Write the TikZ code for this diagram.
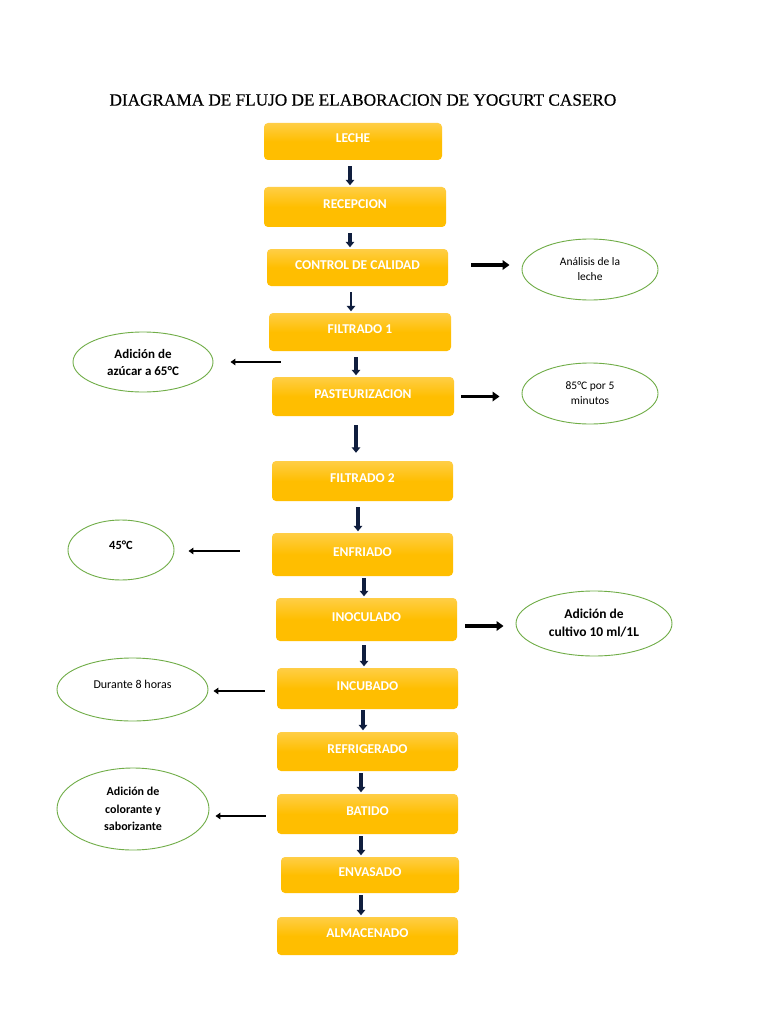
\documentclass[tikz,border=0pt]{standalone}
\usepackage{fontspec}
\setmainfont{Carlito}
\newfontfamily\titlefont[FakeBold=0.5]{Liberation Serif}
\usetikzlibrary{arrows.meta,shapes.geometric,calc}
\definecolor{boxtop}{RGB}{255,206,70}
\definecolor{boxbot}{RGB}{255,190,0}
\definecolor{navy}{RGB}{16,30,62}
\definecolor{ellgreen}{RGB}{112,173,71}
\tikzset{
  stepbox/.style={rectangle, rounded corners=4pt, top color=boxtop, bottom color=boxbot, middle color=boxbot,
    draw=none, minimum height=38pt, text=white, font=\fontsize{13.5}{15}\selectfont\bfseries, inner sep=0pt,
    text height=9pt, text depth=6pt},
  note/.style={ellipse, draw=ellgreen, line width=0.9pt, fill=white, inner sep=0pt, align=center,
    font=\fontsize{12}{15}\selectfont},
  varrow/.style={draw=navy, line width=3.6pt, -{Triangle[width=8.5pt,length=5.5pt]}, shorten <=6pt, shorten >=1.5pt},
  rarrow/.style={draw=black, line width=4.2pt, -{Triangle[width=9.5pt,length=7pt]}},
  larrow/.style={draw=black, line width=2.8pt, -{Triangle[width=6.5pt,length=5pt]}},
}
\begin{document}
\begin{tikzpicture}[x=1pt,y=-1pt]
\useasboundingbox (0,0) rectangle (768,1024);
\fill[white] (0,0) rectangle (768,1024);
\node[anchor=west, font=\titlefont\fontsize{17.2}{19}\selectfont] (title) at (106,100) {DIAGRAMA DE FLUJO DE ELABORACION DE YOGURT CASERO};

\node[stepbox, minimum width=178pt, minimum height=37pt] (leche) at (353,141.5) {LECHE};
\node[stepbox, minimum width=182pt, minimum height=40pt] (recep) at (355,207) {RECEPCION};
\node[stepbox, minimum width=181pt, minimum height=37pt] (control) at (357.5,267.5) {CONTROL DE CALIDAD};
\node[stepbox, minimum width=182pt, minimum height=38pt] (filt1) at (360,332) {FILTRADO 1};
\node[stepbox, minimum width=182pt, minimum height=39pt] (paste) at (363,396.5) {PASTEURIZACION};
\node[stepbox, minimum width=181pt, minimum height=40pt] (filt2) at (362.5,481) {FILTRADO 2};
\node[stepbox, minimum width=181pt, minimum height=43pt] (enfr) at (362.5,554.5) {ENFRIADO};
\node[stepbox, minimum width=181pt, minimum height=43pt] (inoc) at (366.5,619.5) {INOCULADO};
\node[stepbox, minimum width=181pt, minimum height=41pt] (incu) at (367.5,688.5) {INCUBADO};
\node[stepbox, minimum width=181pt, minimum height=39pt] (refri) at (367.5,751.5) {REFRIGERADO};
\node[stepbox, minimum width=181pt, minimum height=40pt] (bati) at (367.5,814) {BATIDO};
\node[stepbox, minimum width=178pt, minimum height=36pt] (envas) at (370,875) {ENVASADO};
\node[stepbox, minimum width=181pt, minimum height=38pt] (almac) at (367.5,936) {ALMACENADO};

\node[note, minimum width=136pt, minimum height=61pt, font=\fontsize{11.5}{15}\selectfont] (analisis) at (590,269.5) {Análisis de la\\leche};
\node[note, minimum width=140pt, minimum height=60pt, font=\fontsize{13}{17}\selectfont\bfseries] (azucar) at (143,362) {Adición de\\azúcar a 65°C};
\node[note, minimum width=136pt, minimum height=61pt, font=\fontsize{11.5}{15}\selectfont] (c85) at (590,393.5) {85°C por 5\\minutos};
\node[note, minimum width=106pt, minimum height=60pt, font=\fontsize{12.5}{14}\selectfont\bfseries] (c45) at (121,550) {45°C\\[-4pt]};
\node[note, minimum width=156pt, minimum height=65pt, font=\fontsize{13.5}{18}\selectfont\bfseries] (cultivo) at (594,623.5) {Adición de\\cultivo 10 ml/1L};
\node[note, minimum width=151pt, minimum height=63pt, font=\fontsize{12}{14}\selectfont] (durante) at (132.5,689.5) {Durante 8 horas\\[-4pt]};
\node[note, minimum width=152pt, minimum height=82pt, font=\fontsize{12}{17.5}\selectfont\bfseries] (color) at (133,809) {Adición de\\colorante y\\saborizante};

% vertical arrows
\draw[varrow] ([xshift=-3pt]leche.south) -- ([xshift=-3pt]leche.south |- recep.north);
\draw[varrow] ([xshift=-5pt]recep.south) -- ([xshift=-5pt]recep.south |- control.north);
\draw[varrow, line width=2.2pt] ([xshift=-6.5pt]control.south) -- ([xshift=-6.5pt]control.south |- filt1.north);
\draw[varrow] ([xshift=-4pt]filt1.south) -- ([xshift=-4pt]filt1.south |- paste.north);
\draw[varrow, shorten <=9pt, shorten >=8pt] ([xshift=-7pt]paste.south) -- ([xshift=-7pt]paste.south |- filt2.north);
\draw[varrow] ([xshift=-4.5pt]filt2.south) -- ([xshift=-4.5pt]filt2.south |- enfr.north);
\draw[varrow, shorten <=2pt] ([xshift=1.5pt]enfr.south) -- ([xshift=1.5pt]enfr.south |- inoc.north);
\draw[varrow, shorten <=4pt] ([xshift=-2.5pt]inoc.south) -- ([xshift=-2.5pt]inoc.south |- incu.north);
\draw[varrow, shorten <=1pt] ([xshift=-4.5pt]incu.south) -- ([xshift=-4.5pt]incu.south |- refri.north);
\draw[varrow, shorten <=2pt] ([xshift=-6.5pt]refri.south) -- ([xshift=-6.5pt]refri.south |- bati.north);
\draw[varrow, shorten <=2pt] ([xshift=-6.5pt]bati.south) -- ([xshift=-6.5pt]bati.south |- envas.north);
\draw[varrow, shorten <=2pt] ([xshift=-9pt]envas.south) -- ([xshift=-9pt]envas.south |- almac.north);

% side arrows
\draw[rarrow, shorten <=23pt, shorten >=12pt] ([yshift=2.5pt]control.east) -- ([yshift=2.5pt]control.east -| analisis.west);
\draw[larrow, shorten <=-12pt, shorten >=17pt] (azucar.east -| filt1.west) -- (azucar.east);
\draw[rarrow, line width=3.4pt, shorten <=7pt, shorten >=22pt] (paste.east) -- (paste.east -| c85.west);
\draw[larrow, shorten <=32pt, shorten >=14pt] ([yshift=3.5pt]enfr.west) -- ([yshift=3.5pt]enfr.west -| c45.east);
\draw[rarrow, line width=3.6pt, shorten <=8pt, shorten >=12pt] ([yshift=-6.5pt]inoc.east) -- ([yshift=-6.5pt]inoc.east -| cultivo.west);
\draw[larrow, shorten <=12pt, shorten >=5pt] ([yshift=-2.5pt]incu.west) -- ([yshift=-2.5pt]incu.west -| durante.east);
\draw[larrow, shorten <=11pt, shorten >=6pt] ([yshift=-2pt]bati.west) -- ([yshift=-2pt]bati.west -| color.east);
\end{tikzpicture}
\end{document}
